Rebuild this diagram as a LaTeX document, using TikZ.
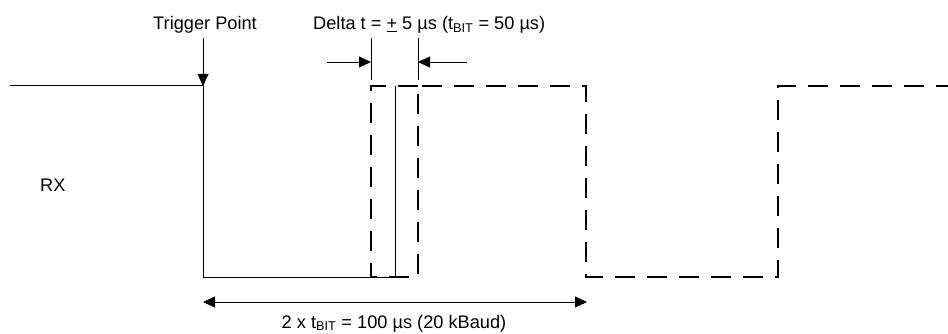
\documentclass[tikz,border=0pt]{standalone}
\usepackage{fontspec}
\setmainfont{Liberation Sans}
\usetikzlibrary{calc,arrows.meta}
\def\drawsig{\draw[line width=1pt]}
\def\drawlate{\draw[line width=2.9pt,dash pattern=on 20pt off 12pt]}
\def\drawmark{\draw[line width=0.9pt]}
\tikzset{pointer/.style={-{Triangle[length=12pt,width=11pt]}},
  pointers/.style={{Triangle[length=12pt,width=11pt]}-{Triangle[length=12pt,width=11pt]}}}

\begin{document}
\begin{tikzpicture}[x=1pt,y=-1pt,inner sep=0pt,font=\fontsize{18.2}{21}\selectfont]
\useasboundingbox (0,0) rectangle (948,334);
\coordinate (o) at (203,86); % trigger point, the rest is relative to (o)

% Solid RX level
\coordinate (start) at ($ (o) - (193,0) $);
\coordinate (low_left) at ($ (o) + (0,191) $);
\coordinate (low_right) at ($ (o) + (192,191) $);
\coordinate (rise) at ($ (o) + (192,0) $);
\drawsig (start) -- (o) -- (low_left) -- (low_right) -- (rise);

% Dashed edges, early and late by delta t
\coordinate (early) at ($ (o) + (168,0) $);
\coordinate (late) at ($ (o) + (215,0) $);
\coordinate (fall) at ($ (o) + (383,0) $);
\coordinate (rise_two) at ($ (o) + (575,0) $);
\coordinate (stop) at ($ (o) + (745,0) $);
\drawlate (late) -- (early) -- (early |- low_left) -- (late |- low_left) -- (late)
  -- (fall) -- (fall |- low_left) -- (rise_two |- low_left) -- (rise_two) -- (stop);

% Trigger point
\node[anchor=base] (trig) at ($ (o) + (2,-56) $) {Trigger Point};
\coordinate (trig_top) at ($ (o) - (0,48) $);
\drawmark[pointer] (trig_top) -- (o);

% Delta t markers
\coordinate (early_top) at ($ (early) - (0,48) $);
\coordinate (early_bot) at ($ (early) - (0,6) $);
\coordinate (late_top) at ($ (late) - (0,48) $);
\coordinate (late_bot) at ($ (late) - (0,6) $);
\drawmark (early_top) -- (early_bot);
\drawmark (late_top) -- (late_bot);
\coordinate (early_in) at ($ (early) + (-44,-24) $);
\coordinate (early_at) at ($ (early) + (0,-24) $);
\coordinate (late_in) at ($ (late) + (49,-24) $);
\coordinate (late_at) at ($ (late) + (0,-24) $);
\drawmark[pointer] (early_in) -- (early_at);
\drawmark[pointer] (late_in) -- (late_at);
\node[anchor=base west] (delta) at ($ (o) + (110,-56) $)
  {Delta t = \underline{+} 5 µs (t\textsubscript{BIT} = 50 µs)};

% Two bit times
\coordinate (span_left) at ($ (o) + (0,216) $);
\coordinate (span_right) at ($ (fall) + (1,216) $);
\drawmark[pointers] (span_left) -- (span_right);
\node[anchor=base] (span) at ($ (o) + (191,242) $)
  {2 x t\textsubscript{BIT} = 100 µs (20 kBaud)};

\node[anchor=base west] (rx) at ($ (o) + (-163,106) $) {RX};
\end{tikzpicture}
\end{document}
